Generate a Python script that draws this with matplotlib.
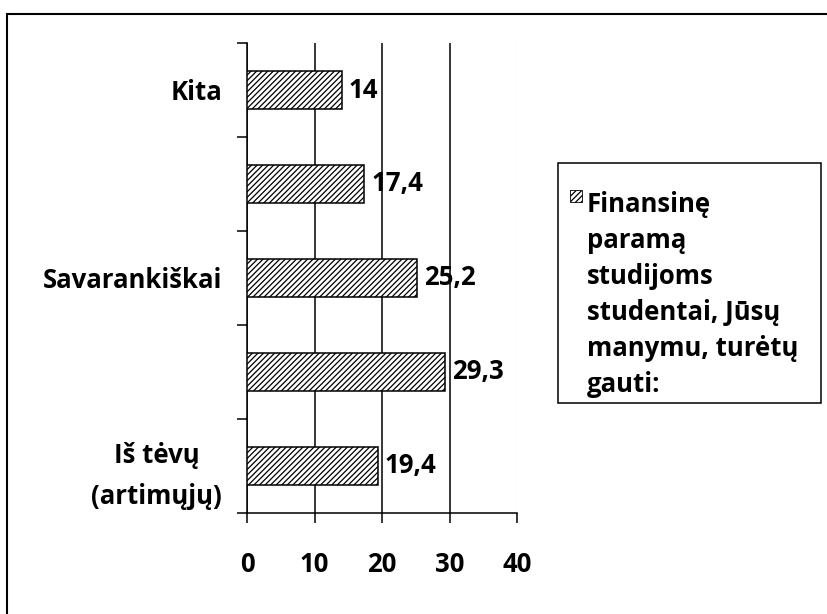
import matplotlib
matplotlib.use("Agg")
import matplotlib.pyplot as plt
from matplotlib.patches import Rectangle

plt.rcParams["font.family"] = ["Open Sans", "DejaVu Sans"]
plt.rcParams["font.weight"] = "bold"
plt.rcParams["hatch.linewidth"] = 0.9

# data (bottom to top, as in the chart)
categories = ["Iš tėvų\n(artimųjų)", "", "Savarankiškai", "", "Kita"]
values = [19.4, 29.3, 25.2, 17.4, 14]
value_labels = ["19,4", "29,3", "25,2", "17,4", "14"]
x_ticks = [0, 10, 20, 30, 40]
legend_lines = ["Finansinę", "paramą", "studijoms",
                "studentai, Jūsų", "manymu, turėtų", "gauti:"]

W, H = 827, 614
FS = 18.5
fig = plt.figure(figsize=(W / 100, H / 100), dpi=100)
ax = fig.add_axes([247 / W, 1 - 513 / H, (517 - 247) / W, (513 - 43) / H])

ypos = list(range(len(values)))
bars = ax.barh(ypos, values, height=0.4, color="white", edgecolor="black",
               hatch="//////", linewidth=1.1, zorder=3)

for b, lab in zip(bars, value_labels):
    ax.annotate(lab, xy=(b.get_width(), b.get_y() + b.get_height() / 2),
                xytext=(5, 0), textcoords="offset points",
                ha="left", va="center", fontsize=FS, fontweight="bold", zorder=4)

# x axis
ax.set_xlim(0, 40)
ax.set_xticks(x_ticks)
ax.tick_params(axis="x", length=7, width=1.1, pad=20, labelsize=FS)
ax.set_axisbelow(True)
ax.xaxis.grid(True, color="black", lw=1.1)
ax.get_xgridlines()[-1].set_color("#cfcfcf")
ax.get_xgridlines()[-1].set_linewidth(0.8)

# y axis: labels centred on bars, tick marks between categories
ax.set_ylim(-0.5, len(values) - 0.5)
ax.set_yticks(ypos)
ax.set_yticklabels(categories)
for t in ax.get_yticklabels():
    t.set_multialignment("center")
    t.set_linespacing(1.65)
ax.set_yticks([i - 0.5 for i in range(len(values) + 1)], minor=True)
ax.tick_params(axis="y", which="major", length=0, pad=18, labelsize=FS)
ax.tick_params(axis="y", which="minor", length=7, width=1.1)

for s in ["top", "right"]:
    ax.spines[s].set_visible(False)
for s in ["left", "bottom"]:
    ax.spines[s].set_linewidth(1.1)

# legend drawn by hand (Excel style, text wrapped)
fig.add_artist(Rectangle((558 / W, 1 - 403 / H), (821 - 558) / W, (403 - 163) / H,
                         transform=fig.transFigure, fill=False,
                         edgecolor="black", lw=1.1))
fig.add_artist(Rectangle((570 / W, 1 - 202 / H), 12 / W, 12 / H,
                         transform=fig.transFigure, facecolor="white",
                         edgecolor="black", hatch="//////", lw=0.6))
for i, line in enumerate(legend_lines):
    fig.text(587 / W, 1 - (212 + 36 * i) / H, line, ha="left", va="baseline",
             fontsize=FS, fontweight="bold")

# outer chart border (cropped on right and bottom)
fig.add_artist(Rectangle((7 / W, -0.1), 1.2, 1.1 - 14 / H,
                         transform=fig.transFigure, fill=False,
                         edgecolor="black", lw=1.5))

fig.savefig("out.png", dpi=100)
